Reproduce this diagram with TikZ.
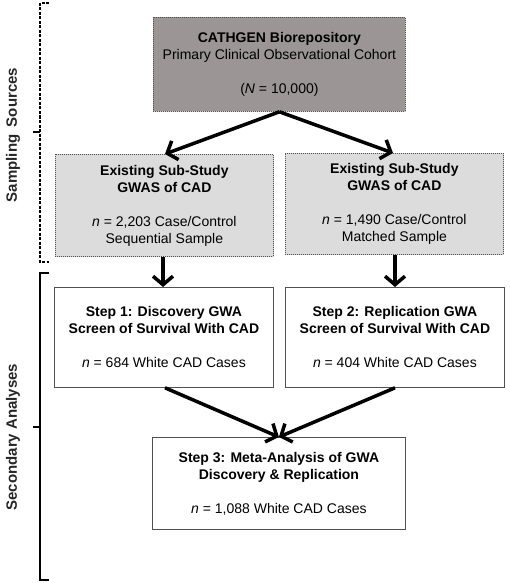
\documentclass[tikz,border=0pt]{standalone}
\usepackage{fontspec}
\setmainfont{Liberation Sans}
\usetikzlibrary{arrows.meta,shadows}
\definecolor{topfill}{HTML}{9B9595}
\definecolor{subfill}{HTML}{DCDCDC}
\definecolor{bordergray}{HTML}{505050}
\tikzset{
  x=1pt,y=-1pt,
  box/.style={draw=bordergray, line width=0.8pt, align=center, anchor=north west,
    inner sep=0pt, font=\fontsize{14}{17}\selectfont,
    drop shadow={shadow xshift=1pt,shadow yshift=-1pt,opacity=0.35}},
  dotbox/.style={box, dash pattern=on 1pt off 1pt},
  flow/.style={line width=3.5pt, -{Straight Barb[length=8.5pt,width=20pt,line width=3.5pt]}},
  bracket/.style={line width=1.1pt, draw=black},
  sidelabel/.style={rotate=90, font=\fontsize{15}{17}\selectfont\bfseries, text=black!85}
}
\begin{document}
\begin{tikzpicture}
\useasboundingbox (0,0) rectangle (510,583);
% boxes
\node[dotbox, fill=topfill, minimum width=252, minimum height=94] (top) at (153,17)
  {\textbf{CATHGEN Biorepository}\\Primary Clinical Observational Cohort\\[17pt](\textit{N} = 10,000)};
\node[dotbox, fill=subfill, minimum width=218, minimum height=102] (subl) at (55,154)
  {\textbf{Existing Sub-Study}\\\textbf{GWAS of CAD}\\[17pt]\textit{n} = 2,203 Case/Control\\Sequential Sample};
\node[dotbox, fill=subfill, minimum width=218, minimum height=101] (subr) at (285,153)
  {\textbf{Existing Sub-Study}\\\textbf{GWAS of CAD}\\[17pt]\textit{n} = 1,490 Case/Control\\Matched Sample};
\node[box, fill=white, minimum width=219, minimum height=100] (s1) at (54,287)
  {\textbf{Step 1: Discovery GWA}\\\textbf{Screen of Survival With CAD}\\[17pt]\textit{n} = 684 White CAD Cases};
\node[box, fill=white, minimum width=219, minimum height=100] (s2) at (285,287)
  {\textbf{Step 2: Replication GWA}\\\textbf{Screen of Survival With CAD}\\[17pt]\textit{n} = 404 White CAD Cases};
\node[box, fill=white, minimum width=253, minimum height=92] (s3) at (152,437)
  {\textbf{Step 3: Meta-Analysis of GWA}\\\textbf{Discovery \& Replication}\\[17pt]\textit{n} = 1,088 White CAD Cases};
% connectors
\draw[flow] (top.south) -- (subl.north -| 165,0);
\draw[flow] (top.south) -- (subr.north -| 393,0);
\draw[flow] (subl.south -| 163,0) -- (s1.north -| 163,0);
\draw[flow] (subr.south -| 395,0) -- (s2.north -| 395,0);
\draw[flow] (s1.south -| 165,0) -- (s3.north);
\draw[flow] (s2.south -| 395,0) -- (s3.north);
% brackets
\coordinate (b1t) at (49,3); \coordinate (b1b) at (49,262);
\draw[bracket, dash pattern=on 3pt off 1.5pt] (b1t) -- (40,3) -- (40,262) -- (b1b);
\coordinate (b1m) at (33,132);
\draw[bracket] (40,132) -- (b1m);
\coordinate (b2t) at (49,273); \coordinate (b2b) at (49,580);
\draw[bracket] (b2t) -- (40,273) -- (40,580) -- (b2b);
\coordinate (b2m) at (33,427);
\draw[bracket] (40,427) -- (b2m);
\node[sidelabel] (lab1) at (13,135) {Sampling\hspace{0.5em}Sources};
\node[sidelabel] (lab2) at (13,437) {Secondary Analyses};
\end{tikzpicture}
\end{document}
